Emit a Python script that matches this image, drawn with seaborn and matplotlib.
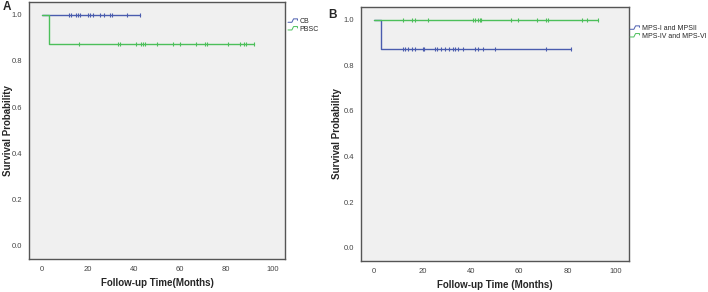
import numpy as np
import pandas as pd
import matplotlib
matplotlib.use("Agg")
import matplotlib.pyplot as plt
from matplotlib.lines import Line2D
from matplotlib.legend_handler import HandlerBase
import seaborn as sns

# ---------------- data ----------------
# Panel A: graft source
a_groups = ["CB", "PBSC"]
a_event_time = [None, 3.2]          # month of the single drop (None = no event)
a_surv_after = [1.0, 0.875]         # survival after the drop
a_censor_cb = [12, 12.7, 14.9, 15.9, 16.8, 19.9, 20.9, 22.4, 25.3, 26.9, 29.5, 30.3, 37.1, 42.5]
a_censor_pbsc = [16.2, 33.1, 33.8, 40.9, 43.2, 43.9, 44.6, 50.1, 57.1, 59.8, 67.1, 71.0,
                 71.7, 80.9, 85.8, 87.6, 88.7, 91.9]

# Panel B: MPS type
b_groups = ["MPS-I and MPSII", "MPS-IV and MPS-VI"]
b_event_time = [2.8, None]
b_surv_after = [0.87, 1.0]
b_censor_12 = [12.0, 12.7, 14.1, 15.5, 16.8, 20.0, 20.7, 25.1, 25.8, 27.6, 29.3, 31.0, 32.8,
               33.4, 34.8, 36.8, 41.9, 43.0, 45.1, 49.9, 71.3, 81.4]
b_censor_46 = [12.0, 15.7, 16.8, 22.1, 41.0, 41.9, 43.0, 43.7, 44.4, 56.8, 59.6, 67.2, 71.3,
               72.0, 86.1, 87.9, 92.7]

x_ticks = [0, 20, 40, 60, 80, 100]
y_ticks = [0.0, 0.2, 0.4, 0.6, 0.8, 1.0]

BLUE = "#4a5cae"
GREEN = "#4cbf5a"

sns.set_style("white")
plt.rcParams["font.family"] = ["Liberation Sans", "DejaVu Sans"]


class StepHandler(HandlerBase):
    def create_artists(self, legend, orig_handle, xdescent, ydescent, width, height,
                       fontsize, trans):
        x0 = -xdescent
        y0 = -ydescent
        xs = [x0, x0 + width * 0.35, x0 + width * 0.5, x0 + width * 0.85, x0 + width * 0.85]
        ys = [y0 + height * 0.15, y0 + height * 0.15, y0 + height * 0.85,
              y0 + height * 0.85, y0 + height * 0.55]
        ln = Line2D(xs, ys, color=orig_handle.get_color(), lw=0.7, transform=trans)
        return [ln]


def km_frames(group, event_time, surv_after, censors):
    last = max(censors)
    if event_time is None:
        t = [0.0, last]
        s = [1.0, 1.0]
    else:
        t = [0.0, event_time, last]
        s = [1.0, surv_after, surv_after]
    curve = pd.DataFrame({"time": t, "surv": s, "group": group})
    cs = [1.0 if (event_time is None or c < event_time) else surv_after for c in censors]
    cens = pd.DataFrame({"time": censors, "surv": cs, "group": group})
    return curve, cens


def draw_panel(ax, groups, events, survs, censor_lists, xlabel, letter, letter_xy,
               ylabel_x, legend_anchor):
    colors = [BLUE, GREEN]
    for i, (g, e, s, c, col) in enumerate(zip(groups, events, survs, censor_lists, colors)):
        cu, ce = km_frames(g, e, s, c)
        sns.lineplot(data=cu, x="time", y="surv", color=col, drawstyle="steps-post",
                     linewidth=1.0, ax=ax, legend=False, estimator=None, sort=False,
                     zorder=2 + i)
        sns.scatterplot(data=ce, x="time", y="surv", color=col, marker="|", s=12,
                        linewidth=0.8, ax=ax, legend=False, zorder=2 + i)
    ax.set_facecolor("#f0f0f0")
    ax.set_xlim(-5.5, 105.5)
    ax.set_ylim(-0.057, 1.055)
    ax.set_xticks(x_ticks)
    ax.set_yticks(y_ticks)
    ax.set_xticklabels([str(v) for v in x_ticks])
    ax.set_yticklabels([f"{v:.1f}" for v in y_ticks])
    ax.tick_params(axis="both", direction="out", length=3, width=0.8, labelsize=5.5,
                   colors="#333333", pad=2)
    ax.tick_params(axis="both", labelcolor="#444444")
    for sp in ax.spines.values():
        sp.set_color("#555555")
        sp.set_linewidth(1.0)
    ax.set_xlabel(xlabel, fontsize=7, fontweight="bold", labelpad=4)
    ax.set_ylabel("")
    fig = ax.figure
    fig.text(ylabel_x, (ax.get_position().y0 + ax.get_position().y1) / 2,
             "Survival Probability", rotation=90, fontsize=7, fontweight="bold",
             ha="center", va="center")
    fig.text(letter_xy[0], letter_xy[1], letter, fontsize=8.5, fontweight="bold",
             ha="left", va="top")
    handles = [Line2D([0], [0], color=c, lw=0.9) for c in colors]
    ax.legend(handles, groups, loc="upper left", bbox_to_anchor=legend_anchor,
              bbox_transform=fig.transFigure, frameon=False, fontsize=5,
              handlelength=1.6, handletextpad=0.1, labelspacing=0.1,
              borderpad=0, borderaxespad=0,
              handler_map={Line2D: StepHandler()})


fig = plt.figure(figsize=(7.08, 2.92), dpi=100)
fig.patch.set_facecolor("white")
axA = fig.add_axes([29 / 708, 1 - 259 / 292, (285 - 29) / 708, (259 - 2) / 292])
axB = fig.add_axes([361 / 708, 1 - 261 / 292, (629 - 361) / 708, (261 - 7) / 292])

draw_panel(axA, a_groups, a_event_time, a_surv_after, [a_censor_cb, a_censor_pbsc],
           "Follow-up Time(Months)", "A", (3 / 708, 1 - 1 / 292), 8 / 708,
           (288 / 708, 1 - 18 / 292))
draw_panel(axB, b_groups, b_event_time, b_surv_after, [b_censor_12, b_censor_46],
           "Follow-up Time (Months)", "B", (328 / 708, 1 - 9 / 292), 337 / 708,
           (630 / 708, 1 - 25 / 292))

fig.savefig("out.png", dpi=100, facecolor="white")
